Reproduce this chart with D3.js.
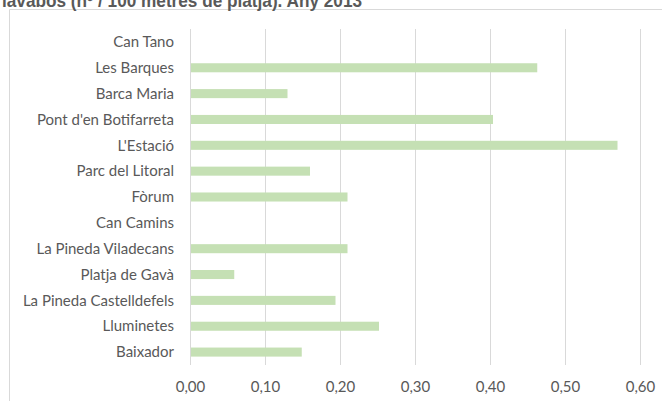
<!DOCTYPE html>
<html>
<head>
<meta charset="utf-8">
<script src="https://cdn.jsdelivr.net/npm/d3@7"></script>
<style>
  html, body { margin: 0; padding: 0; background: #fff; }
  svg { display: block; }
</style>
</head>
<body>
<svg id="chart" width="662" height="401"></svg>
<script>
const titleText = "lavabos (nº / 100 metres de platja). Any 2013";
const categories = [
  "Can Tano", "Les Barques", "Barca Maria", "Pont d'en Botifarreta", "L'Estació",
  "Parc del Litoral", "Fòrum", "Can Camins", "La Pineda Viladecans", "Platja de Gavà",
  "La Pineda Castelldefels", "Lluminetes", "Baixador"
];
const values = [0, 0.463, 0.130, 0.404, 0.570, 0.160, 0.210, 0, 0.210, 0.059, 0.194, 0.252, 0.149];
const tickValues = [0, 0.1, 0.2, 0.3, 0.4, 0.5, 0.6];

const svg = d3.select("#chart");
const grid = "#d9d9d9", textCol = "#595959", barCol = "#c5e0b4";
const labelFont = "Lato, 'Open Sans', sans-serif";

// frame
svg.append("path")
  .attr("d", "M9.5,401 V9.5 H662")
  .attr("fill", "none").attr("stroke", grid).attr("stroke-width", 1);

// title (partially cut off at top, as in the reference)
svg.append("text")
  .attr("x", 2).attr("y", 7)
  .attr("font-family", "'Liberation Sans', Arial, sans-serif")
  .attr("font-weight", "bold").attr("font-size", 18)
  .attr("fill", textCol)
  .attr("textLength", 360).attr("lengthAdjust", "spacingAndGlyphs")
  .text(titleText);

const x = d3.scaleLinear().domain([0, 0.6]).range([190, 640]);
const y = d3.scaleBand().domain(categories).range([29, 365]).paddingInner(0.65).paddingOuter(0.325);

// gridlines
svg.append("g").selectAll("line").data(tickValues).join("line")
  .attr("x1", d => Math.round(x(d)) + 0.5).attr("x2", d => Math.round(x(d)) + 0.5)
  .attr("y1", 29).attr("y2", 365)
  .attr("stroke", grid).attr("stroke-width", 1);

// bars
svg.append("g").selectAll("rect").data(categories).join("rect")
  .attr("x", x(0) + 1)
  .attr("y", d => y(d))
  .attr("width", (d, i) => Math.max(0, x(values[i]) - x(0) - 1))
  .attr("height", y.bandwidth())
  .attr("fill", barCol);

// x axis
const xAxis = d3.axisBottom(x).tickValues(tickValues)
  .tickFormat(d => d3.format(".2f")(d).replace(".", ","))
  .tickSize(0).tickPadding(0);
const gx = svg.append("g").attr("transform", "translate(0,392)").call(xAxis);
gx.select(".domain").remove();
gx.selectAll("text").attr("dy", 0).attr("y", 0)
  .attr("font-family", labelFont).attr("font-size", 15).attr("fill", textCol);

// y axis
const yAxis = d3.axisLeft(y).tickSize(0).tickPadding(0);
const gy = svg.append("g").attr("transform", "translate(174,0)").call(yAxis);
gy.select(".domain").remove();
gy.selectAll("text")
  .attr("font-family", labelFont).attr("font-size", 15).attr("fill", textCol)
  .attr("dy", "0.35em");
</script>
</body>
</html>
